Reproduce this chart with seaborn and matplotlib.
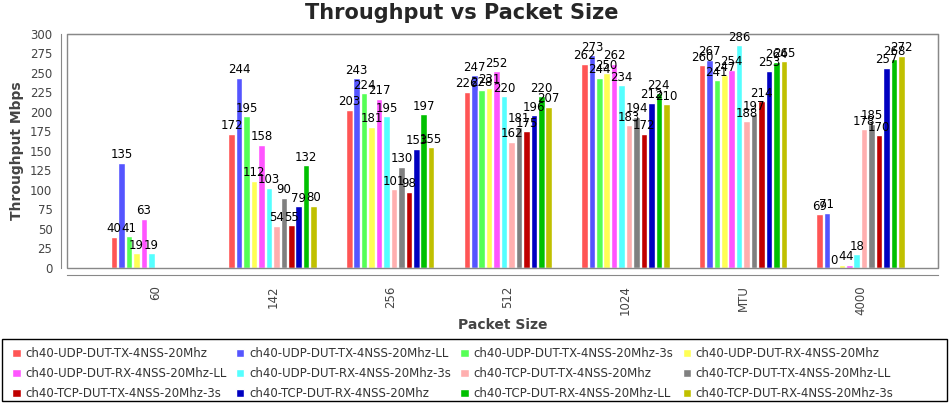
import numpy as np
import pandas as pd
import seaborn as sns
import matplotlib.pyplot as plt
from matplotlib.patches import Rectangle

packet_sizes = ["60", "142", "256", "512", "1024", "MTU", "4000"]

series_names = [
    "ch40-UDP-DUT-TX-4NSS-20Mhz",
    "ch40-UDP-DUT-TX-4NSS-20Mhz-LL",
    "ch40-UDP-DUT-TX-4NSS-20Mhz-3s",
    "ch40-UDP-DUT-RX-4NSS-20Mhz",
    "ch40-UDP-DUT-RX-4NSS-20Mhz-LL",
    "ch40-UDP-DUT-RX-4NSS-20Mhz-3s",
    "ch40-TCP-DUT-TX-4NSS-20Mhz",
    "ch40-TCP-DUT-TX-4NSS-20Mhz-LL",
    "ch40-TCP-DUT-TX-4NSS-20Mhz-3s",
    "ch40-TCP-DUT-RX-4NSS-20Mhz",
    "ch40-TCP-DUT-RX-4NSS-20Mhz-LL",
    "ch40-TCP-DUT-RX-4NSS-20Mhz-3s",
]

# one list per series, values for 60,142,256,512,1024,MTU,4000
udp_tx = [40, 172, 203, 226, 262, 260, 69]
udp_tx_ll = [135, 244, 243, 247, 273, 267, 71]
udp_tx_3s = [41, 195, 224, 228, 244, 241, 0]
udp_rx = [19, 112, 181, 231, 250, 247, 4]
udp_rx_ll = [63, 158, 217, 252, 262, 254, 4]
udp_rx_3s = [19, 103, 195, 220, 234, 286, 18]
tcp_tx = [np.nan, 54, 101, 162, 183, 188, 178]
tcp_tx_ll = [np.nan, 90, 130, 181, 194, 197, 185]
tcp_tx_3s = [np.nan, 55, 98, 175, 172, 214, 170]
tcp_rx = [np.nan, 79, 153, 196, 212, 253, 257]
tcp_rx_ll = [np.nan, 132, 197, 220, 224, 264, 268]
tcp_rx_3s = [np.nan, 80, 155, 207, 210, 265, 272]

all_series = [udp_tx, udp_tx_ll, udp_tx_3s, udp_rx, udp_rx_ll, udp_rx_3s,
              tcp_tx, tcp_tx_ll, tcp_tx_3s, tcp_rx, tcp_rx_ll, tcp_rx_3s]

colors = ["#FF5555", "#5555FF", "#55FF55", "#FFFF55", "#FF55FF", "#55FFFF",
          "#FFAFAF", "#808080", "#C00000", "#0000C0", "#00C000", "#C0C000"]

rows = []
for name, vals in zip(series_names, all_series):
    for size, v in zip(packet_sizes, vals):
        rows.append({"Packet Size": size, "Series": name, "Throughput": v})
df = pd.DataFrame(rows)

sns.set_style("white")
plt.rcParams["font.family"] = ["DejaVu Sans"]

fig = plt.figure(figsize=(9.5, 4.03), dpi=100)
ax = fig.add_axes([67 / 950, 1 - 268 / 403, (938 - 67) / 950, (268 - 34) / 403])

sns.barplot(data=df, x="Packet Size", y="Throughput", hue="Series",
            order=packet_sizes, hue_order=series_names, palette=colors,
            saturation=1, width=0.76, gap=0.12, legend=True, ax=ax, errorbar=None)

for cont in ax.containers:
    ax.bar_label(cont, fmt="%.0f", padding=1, fontsize=8.5, color="black")

ax.set_ylim(0, 300)
ax.set_yticks(range(0, 301, 25))
ax.set_xlim(-0.75, 6.66)
ax.tick_params(axis="x", labelrotation=90, labelsize=8.5, labelcolor="#444444",
               color="#888888", length=4)
ax.tick_params(axis="y", labelsize=8.5, labelcolor="#444444", color="#888888", length=3)
ax.set_xlabel("Packet Size", fontsize=10, fontweight="bold", color="#444444", labelpad=2)
ax.set_ylabel("Throughput Mbps", fontsize=10, fontweight="bold", color="#444444", labelpad=4)
fig.text(462 / 950, 1 - 13 / 403, "Throughput vs Packet Size", fontsize=15,
         fontweight="bold", ha="center", va="center")

for s in ["top", "right"]:
    ax.spines[s].set_color("#888888")
ax.spines["left"].set_position(("outward", 4))
ax.spines["bottom"].set_position(("outward", 5))
ax.spines["left"].set_color("#888888")
ax.spines["bottom"].set_color("#888888")
ax.add_patch(Rectangle((0, 0), 1, 1, transform=ax.transAxes, fill=False,
                       edgecolor="#888888", lw=1, clip_on=False))

# legend fills row by row, like the reference
handles, labels = ax.get_legend_handles_labels()
ax.get_legend().remove()
order = [r * 4 + c for c in range(4) for r in range(3)]
handles = [handles[i] for i in order]
labels = [labels[i] for i in order]
fig.patches.append(Rectangle((2 / 950, 2 / 403), 945 / 950, 62 / 403,
                             transform=fig.transFigure, fill=False,
                             edgecolor="black", lw=1))
fig.legend(handles, labels, loc="upper left", bbox_to_anchor=(4 / 950, 1 - 339 / 403),
           ncol=4, frameon=False, fontsize=8.5, handlelength=0.7, handleheight=0.7,
           handletextpad=0.4, columnspacing=0.8, labelspacing=0.6, borderpad=0.2,
           labelcolor="#333333")

fig.savefig("out.png", dpi=100)
